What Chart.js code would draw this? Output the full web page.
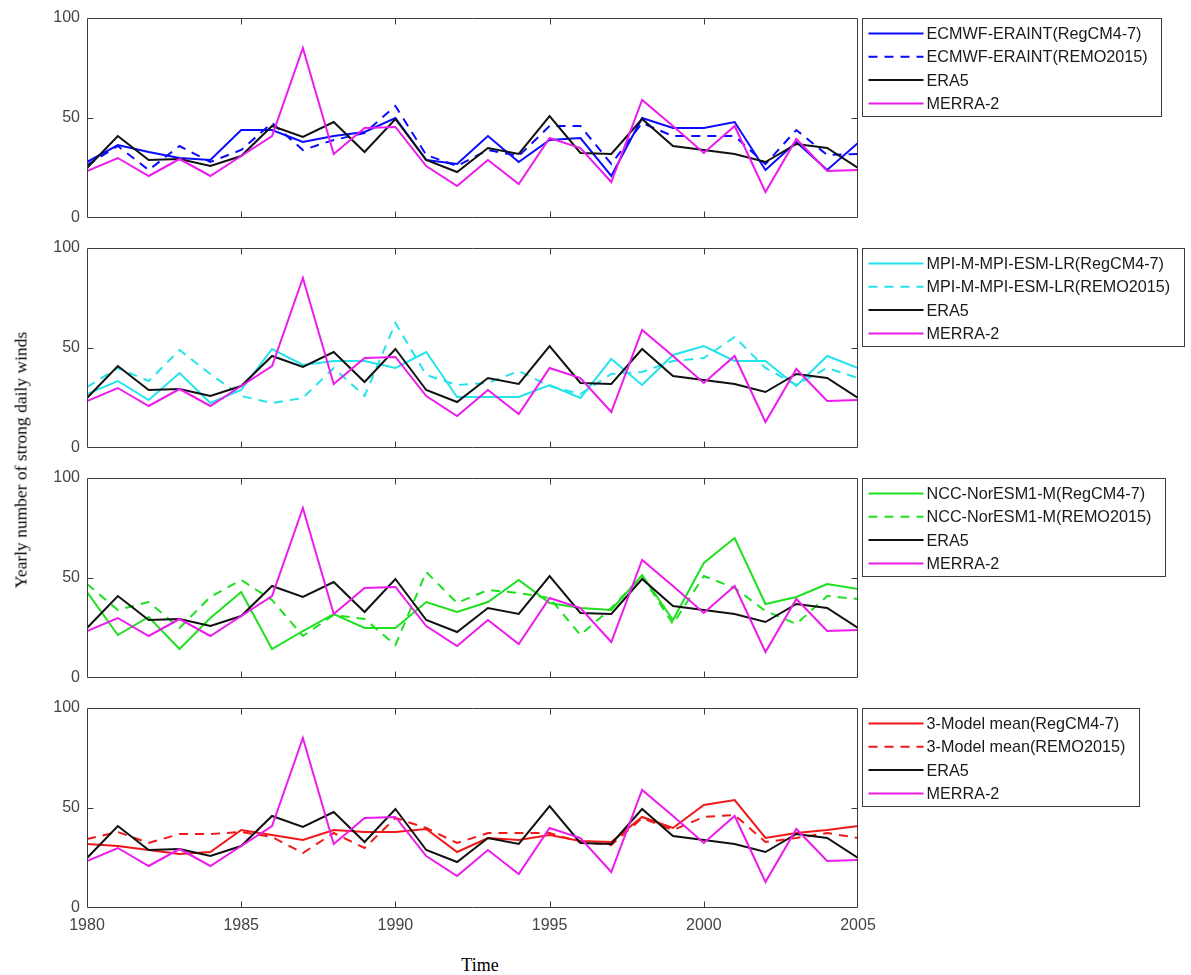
<!DOCTYPE html>
<html>
<head>
<meta charset="utf-8">
<script src="https://cdn.jsdelivr.net/npm/chart.js@4.4.1/dist/chart.umd.min.js"></script>
<style>
  html, body { margin: 0; padding: 0; background: #fff; }
  #fig { position: relative; width: 1191px; height: 975px; overflow: hidden; background: #fff; }
  #fig canvas { position: absolute; left: 0; }
  #ylab {
    position: absolute; left: 21px; top: 460px; z-index: 5;
    transform: translate(-50%, -50%) rotate(-90deg);
    font: 17.5px "Liberation Serif", "DejaVu Serif", serif;
    white-space: nowrap; color: #000;
  }
  #xlab {
    position: absolute; left: 480px; top: 965px; z-index: 5;
    transform: translate(-50%, -50%);
    font: 18px "Liberation Serif", "DejaVu Serif", serif;
    white-space: nowrap; color: #000;
  }
</style>
</head>
<body>
<div id="fig">
  <div id="ylab">Yearly number of strong daily winds</div>
  <div id="xlab">Time</div>
</div>
<script>
// Yearly number of strong daily winds, 1980-2005
const years = [1980, 1981, 1982, 1983, 1984, 1985, 1986, 1987, 1988, 1989, 1990, 1991, 1992,
               1993, 1994, 1995, 1996, 1997, 1998, 1999, 2000, 2001, 2002, 2003, 2004, 2005];
const xTicks = [1980, 1985, 1990, 1995, 2000, 2005];
const yTicks = [0, 50, 100];

// Reanalyses (shown in every panel)
const era5   = [25, 41, 29, 29.5, 26, 31, 46, 40.5, 48, 33, 49.5, 29, 23, 35, 32, 51, 32.5, 32, 49.5, 36, 34, 32, 28, 37, 35, 25];
const merra2 = [23.5, 30, 21, 29.5, 21, 31, 41, 85, 32, 45, 45.5, 26, 16, 29, 17, 40, 35, 18, 59, 46, 32.5, 46, 13, 39.5, 23.5, 24];

// Driving models downscaled with two RCMs
const ecmwfRegcm = [28, 36.5, 33, 30, 29, 44, 44, 38, 41, 43, 50, 29, 27, 41, 28, 39, 40, 21, 50, 45, 45, 48, 24, 38, 24, 37.5];
const ecmwfRemo  = [26.5, 36, 24, 36, 28, 34, 47.5, 34, 39, 42.5, 56, 31.5, 26, 34, 31, 46, 46, 27, 47.5, 41, 41, 41, 27, 44, 31.5, 32];
const mpiRegcm   = [27, 33.5, 24, 37.5, 22.5, 29, 49.5, 41.5, 43.5, 43.5, 40, 48, 25.5, 25.5, 25.5, 31.5, 25, 44.5, 31.5, 46.5, 51, 43.5, 43.5, 31, 46, 40];
const mpiRemo    = [30.5, 40, 33.5, 49, 37, 26, 22.5, 25, 40, 26, 62.5, 36.5, 31.5, 32.5, 38.5, 31, 27, 37, 38, 43.5, 45, 55.5, 40, 31.5, 40, 35];
const nccRegcm   = [43, 21.5, 30.5, 14.5, 30, 43, 14.5, 23.5, 32, 25, 25, 38, 33, 38, 49, 37.5, 35, 34, 51.5, 29, 57.5, 70, 37, 40.5, 47, 44.5];
const nccRemo    = [47, 34, 38, 25, 40.5, 49, 39, 21, 31.5, 29.5, 16.5, 53, 37.5, 44, 42.5, 40, 21.5, 35, 51, 27, 51, 45, 33.5, 27, 41, 39.5];
const meanRegcm  = [32, 31, 29, 27, 28, 39, 36.5, 34, 39, 38, 38, 39.5, 28, 35, 34, 36.5, 33.5, 33, 45.5, 40, 51.5, 54, 35, 37.5, 39, 41];
const meanRemo   = [34.5, 38, 32.5, 37, 37, 38, 35.5, 27.5, 37.5, 30, 45, 40, 32.5, 37.5, 37.5, 37.5, 33, 31.5, 45, 39, 45.5, 46.5, 33, 35, 37.5, 35];

const panelNames = ['ECMWF-ERAINT', 'MPI-M-MPI-ESM-LR', 'NCC-NorESM1-M', '3-Model mean'];
const panelRegcm = [ecmwfRegcm, mpiRegcm, nccRegcm, meanRegcm];
const panelRemo  = [ecmwfRemo, mpiRemo, nccRemo, meanRemo];
const panelColors = ['#0a0aff', '#22e4ea', '#1ee01e', '#f01818'];

const COL_ERA5 = '#111111';
const COL_MERRA = '#ec1cec';
const DASH = [9, 7];

const FIG_W = 1191;
const PLOT_L = 87, PLOT_R = 858, PLOT_H = 200, PANEL_STEP = 230, PLOT_TOP0 = 18;

const toPoints = vals => years.map((yr, i) => ({ x: yr, y: vals[i] }));

// Box frame with inward tick marks
const framePlugin = {
  id: 'frame',
  afterDatasetsDraw(chart) {
    const { ctx, chartArea: a, scales: { x, y } } = chart;
    const L = Math.round(a.left) + 0.5, R = Math.round(a.right) - 0.5;
    const T = Math.round(a.top) + 0.5, B = Math.round(a.bottom) - 0.5;
    ctx.save();
    ctx.strokeStyle = '#3c3c3c';
    ctx.lineWidth = 1;
    ctx.setLineDash([]);
    ctx.beginPath();
    ctx.rect(L, T, R - L, B - T);
    const tl = 6;
    xTicks.slice(1, -1).forEach(v => {
      const px = Math.round(x.getPixelForValue(v)) + 0.5;
      ctx.moveTo(px, B); ctx.lineTo(px, B - tl);
      ctx.moveTo(px, T); ctx.lineTo(px, T + tl);
    });
    yTicks.slice(1, -1).forEach(v => {
      const py = Math.round(y.getPixelForValue(v)) + 0.5;
      ctx.moveTo(L, py); ctx.lineTo(L + tl, py);
      ctx.moveTo(R, py); ctx.lineTo(R - tl, py);
    });
    ctx.stroke();
    ctx.restore();
  }
};

// Boxed legend to the right of each panel
const boxLegendPlugin = {
  id: 'boxLegend',
  afterDraw(chart) {
    const { ctx, chartArea: a } = chart;
    const sets = chart.data.datasets;
    const font = '16.2px "Liberation Sans", Arial, sans-serif';
    ctx.save();
    ctx.font = font;
    const maxW = Math.max(...sets.map(d => ctx.measureText(d.label).width));
    const x0 = Math.round(a.right) + 4.5;
    const y0 = Math.round(a.top) + 0.5;
    const sampleL = 6, sampleLen = 55, gap = 3, rightPad = 14;
    const w = Math.round(sampleL + sampleLen + gap + maxW + rightPad);
    const h = 98;
    ctx.fillStyle = '#fff';
    ctx.fillRect(x0, y0, w, h);
    ctx.strokeStyle = '#3c3c3c';
    ctx.lineWidth = 1;
    ctx.strokeRect(x0, y0, w, h);
    sets.forEach((d, k) => {
      const cy = y0 + 15 + k * 23.3;
      ctx.beginPath();
      ctx.strokeStyle = d.borderColor;
      ctx.lineWidth = 2;
      ctx.setLineDash(d.borderDash || []);
      ctx.moveTo(x0 + sampleL, cy);
      ctx.lineTo(x0 + sampleL + sampleLen, cy);
      ctx.stroke();
      ctx.setLineDash([]);
      ctx.fillStyle = '#1a1a1a';
      ctx.textBaseline = 'middle';
      ctx.textAlign = 'left';
      ctx.fillText(d.label, x0 + sampleL + sampleLen + gap, cy + 1);
    });
    ctx.restore();
  }
};

const fig = document.getElementById('fig');

panelNames.forEach((name, p) => {
  const isLast = p === panelNames.length - 1;
  const plotTop = PLOT_TOP0 + p * PANEL_STEP;
  const canvasTop = plotTop - 18;
  const canvasH = isLast ? 945 - canvasTop : PANEL_STEP;
  const xAxisH = isLast ? canvasH - 18 - PLOT_H : 0;

  const cv = document.createElement('canvas');
  cv.width = FIG_W;
  cv.height = canvasH;
  cv.style.top = canvasTop + 'px';
  cv.style.width = FIG_W + 'px';
  cv.style.height = canvasH + 'px';
  fig.appendChild(cv);

  const color = panelColors[p];
  const datasets = [
    { label: name + '(RegCM4-7)', data: toPoints(panelRegcm[p]), borderColor: color, order: 4 },
    { label: name + '(REMO2015)', data: toPoints(panelRemo[p]), borderColor: color, borderDash: DASH, order: 3 },
    { label: 'ERA5', data: toPoints(era5), borderColor: COL_ERA5, order: 2 },
    { label: 'MERRA-2', data: toPoints(merra2), borderColor: COL_MERRA, order: 1 }
  ].map(d => Object.assign({
    borderWidth: 2,
    pointRadius: 0,
    tension: 0,
    fill: false,
    backgroundColor: d.borderColor
  }, d));

  new Chart(cv, {
    type: 'line',
    data: { datasets },
    options: {
      responsive: false,
      animation: false,
      devicePixelRatio: 1,
      events: [],
      layout: { padding: { left: 0, right: FIG_W - PLOT_R, top: 18, bottom: canvasH - 18 - PLOT_H - xAxisH } },
      plugins: { legend: { display: false }, tooltip: { enabled: false }, title: { display: false } },
      scales: {
        x: {
          type: 'linear',
          display: isLast,
          min: years[0],
          max: years[years.length - 1],
          afterBuildTicks: s => { s.ticks = xTicks.map(v => ({ value: v })); },
          afterFit: s => { s.height = xAxisH; s.paddingLeft = 0; s.paddingRight = 0; },
          grid: { display: false, drawTicks: false },
          border: { display: false },
          ticks: {
            autoSkip: false,
            maxRotation: 0,
            padding: 8,
            color: '#444',
            font: { family: '"Liberation Sans", Arial, sans-serif', size: 16 },
            callback: v => String(v)
          }
        },
        y: {
          min: yTicks[0],
          max: yTicks[yTicks.length - 1],
          afterBuildTicks: s => { s.ticks = yTicks.map(v => ({ value: v })); },
          afterFit: s => { s.width = PLOT_L; s.paddingTop = 0; s.paddingBottom = 0; },
          grid: { display: false, drawTicks: false },
          border: { display: false },
          ticks: {
            padding: 7,
            color: '#444',
            font: { family: '"Liberation Sans", Arial, sans-serif', size: 16 },
            callback: v => String(v)
          }
        }
      }
    },
    plugins: [framePlugin, boxLegendPlugin]
  });
});
</script>
</body>
</html>
